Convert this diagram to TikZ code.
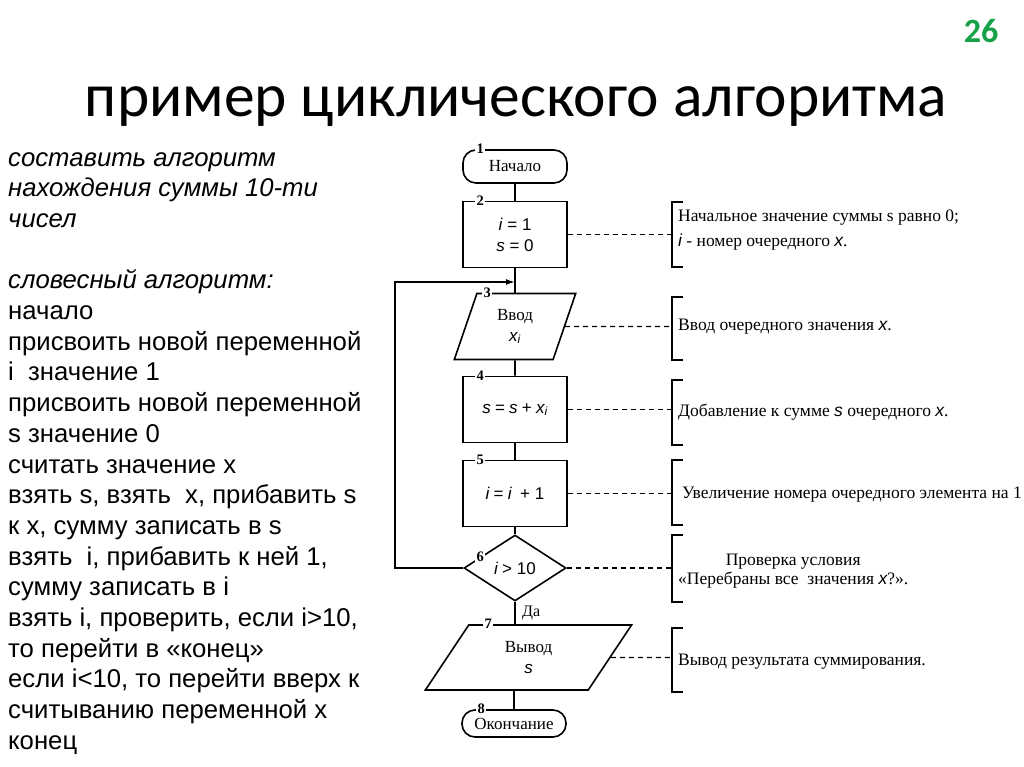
\documentclass[tikz,border=0pt]{standalone}
\usepackage{fontspec}
\setmainfont{Liberation Serif}
\newfontfamily\slidefont{Carlito}
\newfontfamily\arialfont{Liberation Sans}
\usetikzlibrary{arrows.meta,shapes.geometric,positioning,calc}
\definecolor{slidegreen}{HTML}{17A24A}
\newcommand{\vx}[1]{{\arialfont\itshape #1}}
\newcommand{\sx}[1]{{\arialfont #1}}

\begin{document}
\begin{tikzpicture}[x=1pt,y=-1pt,
    blk/.style={draw,line width=1.6pt,minimum width=104pt,minimum height=66pt,inner sep=0pt,
      align=center,font=\fontsize{17}{21}\selectfont},
    term/.style={blk,rounded corners=13pt,minimum height=33pt},
    io/.style={blk,trapezium,trapezium left angle=73,trapezium right angle=107,
      trapezium stretches=true,minimum width=122pt},
    cond/.style={blk,diamond,aspect=1.55,minimum width=102pt},
    num/.style={fill=white,inner sep=1.5pt,font=\fontsize{14.5}{14.5}\selectfont\bfseries},
    ln/.style={line width=1.6pt},
    dsh/.style={line width=1.2pt,dash pattern=on 5pt off 4pt},
    brk/.style={line width=1.8pt},
    note/.style={anchor=west,align=left,inner sep=0pt,font=\fontsize{17.5}{25}\selectfont}]
  \useasboundingbox (0,0) rectangle (1024,767);

  % title
  \node[anchor=base,font=\slidefont\fontsize{61.5}{66}\selectfont] (title) at (516,117)
    {пример циклического алгоритма};
  \node[anchor=base,text=slidegreen,font=\slidefont\bfseries\fontsize{34}{40}\selectfont] (page) at (981,43) {26};

  % verbal algorithm
  \node[anchor=north west,align=left,inner sep=0pt,font=\arialfont\fontsize{25.7}{30.7}\selectfont] (words) at (8,152)
    {\textit{составить алгоритм}\\
     \textit{нахождения суммы 10-ти}\\
     \textit{чисел}\\[30.7pt]
     \textit{словесный алгоритм:}\\
     начало\\
     присвоить новой переменной\\
     i\ \ значение 1\\
     присвоить новой переменной\\
     s значение 0\\
     считать значение х\\
     взять s, взять\ \ х, прибавить s\\
     к х, сумму записать в s\\
     взять\ \ i, прибавить к ней 1,\\
     сумму записать в i\\
     взять i, проверить, если i>10,\\
     то перейти в «конец»\\
     если i<10, то перейти вверх к\\
     считыванию переменной х\\
     конец};

  % flowchart
  \node[term] (n1) at (515,166.5) {Начало};
  \node[blk] (n2) at (515,234.5) {\sx{\textit{i} = 1}\\\sx{\textit{s} = 0}};
  \node[io] (n3) at (515,326.5) {Ввод\\\vx{x\textsubscript{i}}};
  \node[blk] (n4) at (515,409.5) {\vx{s} \sx{=} \vx{s} \sx{+} \vx{x\textsubscript{i}}};
  \node[blk] (n5) at (515,493.5) {\vx{i} \sx{=} \vx{i}\ \ \sx{+ 1}};
  \node[cond] (n6) at (515,568) {\vx{i} \sx{> 10}};
  \node[io,minimum width=207pt,minimum height=65pt,trapezium left angle=62,
    trapezium right angle=118] (n7) at (528.5,657.5) {Вывод\\\vx{s}};
  \node[term,minimum height=27pt] (n8) at (514,723.5) {Окончание};

  \node[num] at ($(n1.north west)+(18,0)$) {1};
  \node[num] at ($(n2.north west)+(18,0)$) {2};
  \node[num] at ($(n3.top left corner)+(11,0)$) {3};
  \node[num] at ($(n4.north west)+(18,0)$) {4};
  \node[num] at ($(n5.north west)+(18,0)$) {5};
  \node[num] at ($(n6.west)+(17,-11)$) {6};
  \node[num] at ($(n7.top left corner)+(20,0)$) {7};
  \node[num] at ($(n8.north west)+(20,0)$) {8};

  \draw[ln] (n1) -- (n2);
  \draw[ln] (n2) -- (n3);
  \draw[ln] (n3) -- (n4);
  \draw[ln] (n4) -- (n5);
  \draw[ln] (n5) -- (n6);
  \draw[ln] (n6.south) -- (n6.south |- n7.north)
    node[midway,right=3pt,font=\fontsize{16}{16}\selectfont] {Да};
  \draw[ln] (n8 |- n7.south) -- (n8);
  \coordinate (lp) at (395,282);
  \draw[ln,-{Latex[length=9pt,width=6pt]}] (n6.west) -| (lp) -- (lp -| n2.south);

  % comments on the right
  \coordinate (b2) at (672,234.5);
  \coordinate (b3) at (672,326.5);
  \coordinate (b4) at (672,409.5);
  \coordinate (b5) at (672,493.5);
  \coordinate (b6) at (672,568);
  \coordinate (b7) at (672,657.5);
  \draw[dsh] (n2) -- (b2);
  \draw[dsh] (n3) -- (b3);
  \draw[dsh] (n4) -- (b4);
  \draw[dsh] (n5) -- (b5);
  \draw[dsh] (n6) -- (b6);
  \draw[dsh] (n7) -- (b7);
  \draw[brk] (683,202) -| (672,267) -- (683,267);
  \draw[brk] (683,297) -| (672,360) -- (683,360);
  \draw[brk] (683,380) -| (672,445) -- (683,445);
  \draw[brk] (683,460) -| (672,525) -- (683,525);
  \draw[brk] (683,535) -| (672,602) -- (683,602);
  \draw[brk] (683,628) -| (672,692) -- (683,692);

  \node[note] (t2) at (678,230.5) {Начальное значение суммы s равно 0;\\\vx{i} - номер очередного \vx{x}.};
  \node[note] (t3) at (678,327) {Ввод очередного значения \vx{x}.};
  \node[note] (t4) at (678,412) {Добавление к сумме \vx{s} очередного \vx{x}.};
  \node[note] (t5) at (682,495) {Увеличение номера очередного элемента на 1};
  \node[note,align=center,font=\fontsize{17.5}{19}\selectfont] (t6) at (678,571)
    {Проверка условия\\«Перебраны все\ \ значения \vx{x}?».};
  \node[note] (t7) at (678,662) {Вывод результата суммирования.};
\end{tikzpicture}
\end{document}
